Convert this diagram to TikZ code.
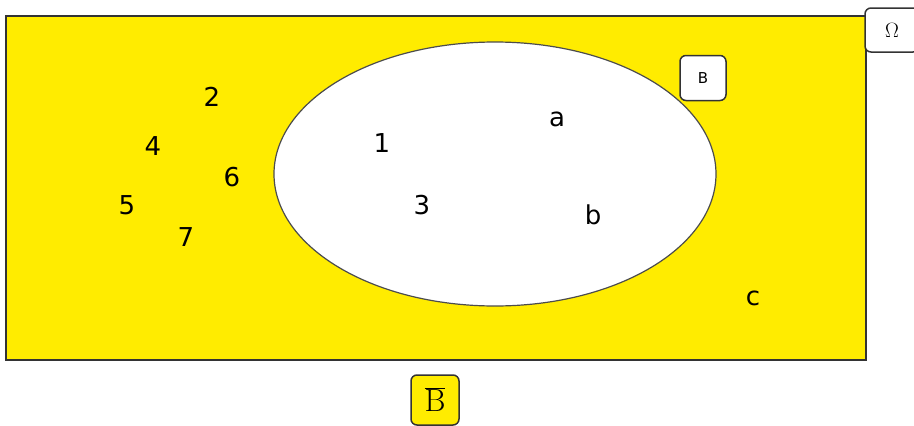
\documentclass[tikz,border=0pt]{standalone}
\usepackage{fontspec}
\setsansfont{DejaVu Sans}
\usepackage{tikz}
\usetikzlibrary{shapes.geometric, positioning}
\definecolor{venyellow}{RGB}{255,236,0}

\begin{document}
\begin{tikzpicture}[x=1pt, y=-1pt,
                elem/.style={font=\sffamily\fontsize{26}{28}\selectfont},
                tag/.style={rectangle, draw=black!80, line width=1.5pt, rounded corners=6pt, fill=white, inner sep=0pt}]
                \useasboundingbox (0,0) rectangle (914,426);

                % universe and set B
                \node[rectangle, draw=black!80, fill=venyellow, line width=1.5pt, minimum width=860pt, minimum height=344pt, inner sep=0pt] (omega) at (436,188) {};
                \node[ellipse, draw=black!70, fill=white, line width=1.2pt, minimum width=442pt, minimum height=264pt, inner sep=0pt] (setb) at (495,174) {};

                % tags
                \node[tag, minimum width=54pt, minimum height=44pt, font=\sffamily\fontsize{20}{22}\selectfont] (omegatag) at (892,30) {$\Omega$};
                \node[tag, minimum width=46pt, minimum height=45pt, font=\sffamily\fontsize{15}{17}\selectfont] (btag) at (703,78) {B};
                \node[tag, fill=venyellow, minimum width=48pt, minimum height=50pt, font=\fontsize{32}{34}\selectfont] (bbartag) at (435,400) {$\overline{\mathrm{B}}$};

                % elements outside B
                \node[elem] (e2) at (212,97) {2};
                \node[elem] (e4) at (153,146) {4};
                \node[elem] (e6) at (232,177) {6};
                \node[elem] (e5) at (127,205) {5};
                \node[elem] (e7) at (186,237) {7};
                \node[elem] (ec) at (753,298) {c};

                % elements of B
                \node[elem] (e1) at (382,143) {1};
                \node[elem] (e3) at (422,205) {3};
                \node[elem] (ea) at (557,119) {a};
                \node[elem] (eb) at (593,215) {b};
            \end{tikzpicture}
\end{document}
